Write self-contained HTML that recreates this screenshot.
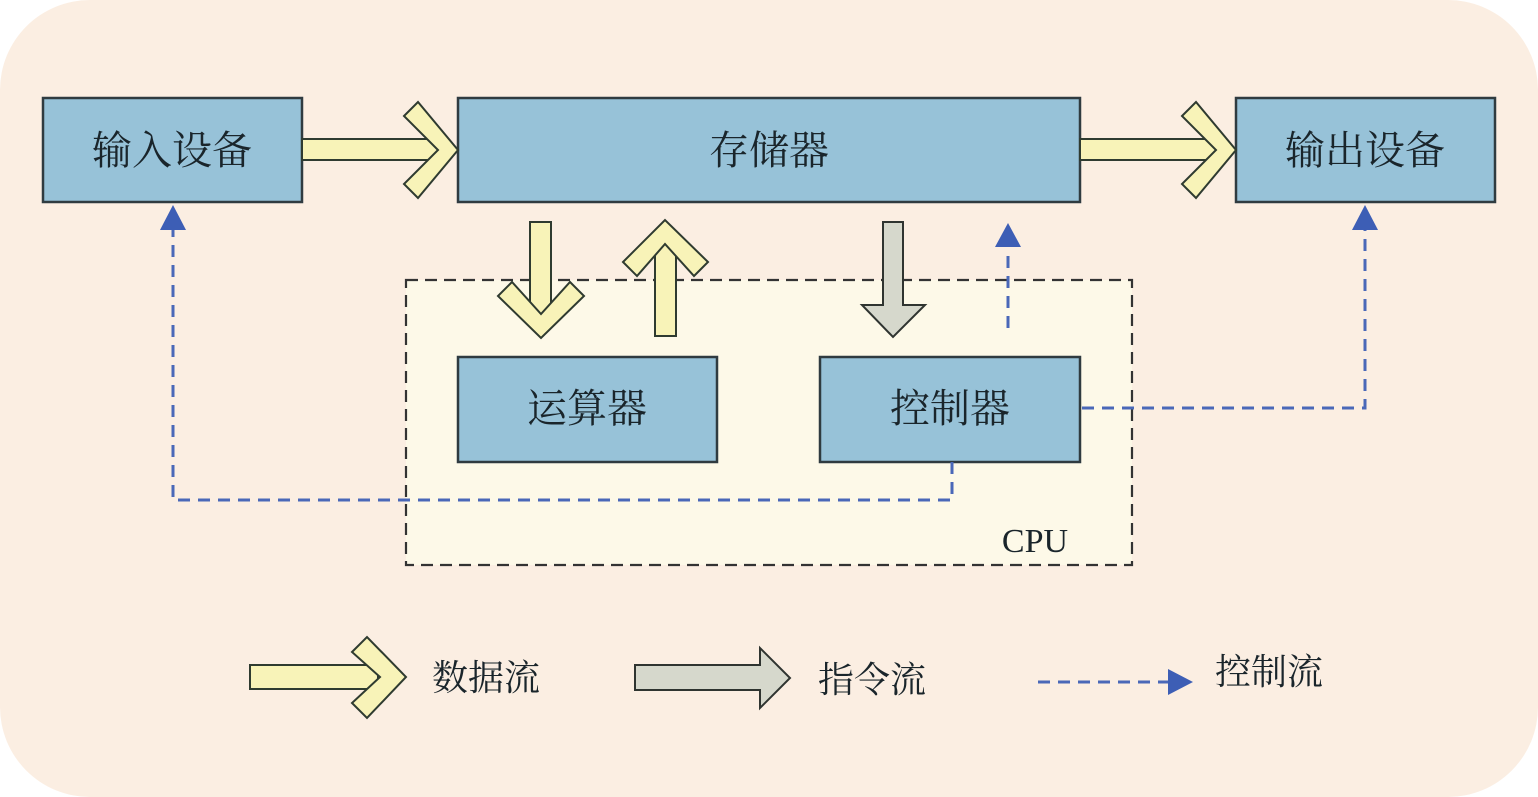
<!DOCTYPE html>
<html><head><meta charset="utf-8"><style>
html,body{margin:0;padding:0;background:#fff;}
svg{display:block}
text{font-family:"Liberation Serif","Noto Serif CJK SC",serif;fill:#1a252b;}
</style></head><body>
<svg width="1538" height="797" viewBox="0 0 1538 797" xmlns="http://www.w3.org/2000/svg">
<rect x="0" y="0" width="1538" height="797" rx="90" fill="#fbeee2"/>
<rect x="406" y="280" width="726" height="285" fill="#fdf9e8" stroke="#333" stroke-width="2.2" stroke-dasharray="12,7"/>
<text x="1035" y="552" font-size="34" text-anchor="middle" style="font-family:'Liberation Serif',serif" fill="#333">CPU</text>

<g fill="#97c2d8" stroke="#2f3b40" stroke-width="2.5">
<rect x="43" y="98" width="259" height="104"/>
<rect x="458" y="98" width="622" height="104"/>
<rect x="1236" y="98" width="259" height="104"/>
<rect x="458" y="357" width="259" height="105"/>
<rect x="820" y="357" width="260" height="105"/>
</g>
<g font-size="40" text-anchor="middle">
<text x="172" y="164">输入设备</text>
<text x="769" y="164">存储器</text>
<text x="1365" y="164">输出设备</text>
<text x="587" y="422">运算器</text>
<text x="950" y="422">控制器</text>
</g>

<g fill="#f8f3b8" stroke="#2f3b30" stroke-width="2">
<rect x="302" y="139" width="136" height="21"/>
<polygon points="404,116 418,102 458,150 418,198 404,184 438,150"/>
<rect x="1080" y="139" width="136" height="21"/>
<polygon points="1182,116 1196,102 1236,150 1196,198 1182,184 1216,150"/>
<rect x="530" y="222" width="21" height="92"/>
<polygon points="498,296 512,282 541,314 570,282 584,296 541,338"/>
<rect x="655" y="244" width="21" height="92"/>
<polygon points="623,262 637,276 665,244 694,276 708,262 665,220"/>
<rect x="250" y="665" width="128" height="24"/>
<polygon points="352,652 367,637 406,677 367,718 352,703 380,677"/>
</g>

<g fill="#d6d8cc" stroke="#2f3430" stroke-width="2">
<polygon points="883,222 903,222 903,305 925,305 893,337 862,305 883,305"/>
<polygon points="635,665 760,665 760,648 790,678 760,708 760,690 635,690"/>
</g>

<g stroke="#4a68b8" stroke-width="3" fill="none" stroke-dasharray="12,8">
<polyline points="1008,328 1008,248"/>
<polyline points="952,462 952,500 173,500 173,226"/>
<polyline points="1082,408 1365,408 1365,226"/>
<polyline points="1038,682 1170,682"/>
</g>
<g fill="#3d5eb5">
<polygon points="995,247 1021,247 1008,223"/>
<polygon points="160,230 186,230 173,205"/>
<polygon points="1352,230 1378,230 1365,205"/>
<polygon points="1168,669 1168,695 1193,682"/>
</g>

<g font-size="36" fill="#333">
<text x="432" y="690">数据流</text>
<text x="818" y="692">指令流</text>
<text x="1215" y="684">控制流</text>
</g>
</svg>
</body></html>
